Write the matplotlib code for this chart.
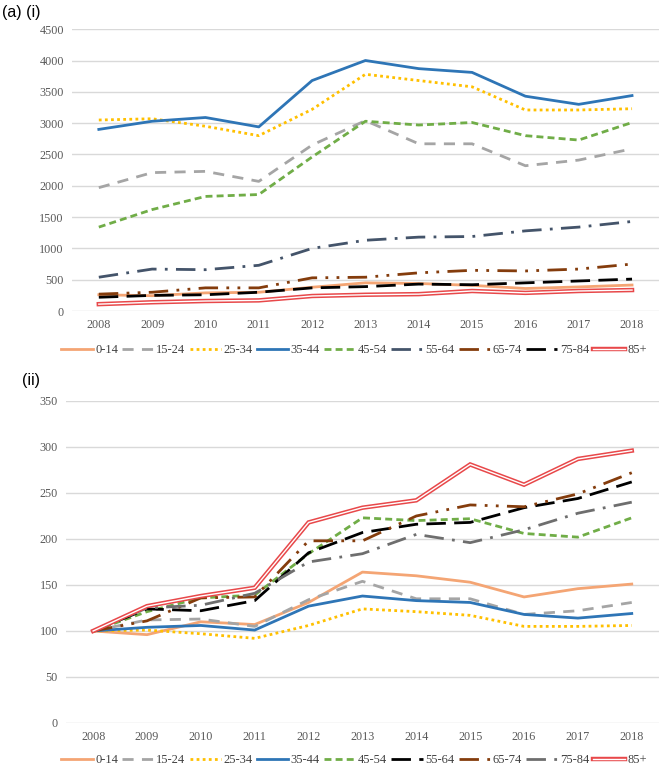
import matplotlib.pyplot as plt

plt.rcParams['font.family'] = 'serif'
plt.rcParams['font.serif'] = ['Liberation Serif', 'DejaVu Serif']

years = [2008, 2009, 2010, 2011, 2012, 2013, 2014, 2015, 2016, 2017, 2018]
groups = ['0-14', '15-24', '25-34', '35-44', '45-54', '55-64', '65-74', '75-84', '85+']

# (i) counts
top_0_14 = [260, 245, 290, 300, 380, 450, 440, 410, 360, 385, 415]
top_15_24 = [1970, 2210, 2230, 2070, 2650, 3040, 2670, 2670, 2320, 2410, 2590]
top_25_34 = [3050, 3070, 2950, 2800, 3220, 3780, 3680, 3580, 3210, 3210, 3230]
top_35_44 = [2900, 3030, 3090, 2940, 3680, 4000, 3870, 3810, 3430, 3300, 3440]
top_45_54 = [1340, 1620, 1830, 1860, 2460, 3030, 2970, 3010, 2800, 2730, 3010]
top_55_64 = [540, 670, 660, 730, 1000, 1130, 1180, 1190, 1280, 1340, 1430]
top_65_74 = [270, 300, 370, 370, 530, 540, 610, 650, 640, 670, 750]
top_75_84 = [220, 250, 260, 300, 370, 390, 430, 420, 450, 480, 510]
top_85 = [110, 140, 160, 170, 240, 260, 270, 320, 290, 320, 335]

# (ii) index (2008 = 100)
bot_0_14 = [100, 96, 110, 107, 131, 164, 160, 153, 137, 146, 151]
bot_15_24 = [100, 112, 113, 105, 134, 154, 135, 135, 118, 122, 131]
bot_25_34 = [100, 101, 97, 92, 106, 124, 121, 117, 105, 105, 106]
bot_35_44 = [100, 104, 106, 101, 127, 138, 133, 131, 118, 114, 119]
bot_45_54 = [100, 121, 136, 139, 184, 223, 220, 222, 206, 202, 223]
bot_55_64 = [100, 124, 122, 133, 185, 207, 216, 218, 234, 244, 262]
bot_65_74 = [100, 111, 136, 137, 198, 198, 225, 237, 235, 249, 272]
bot_75_84 = [100, 125, 128, 141, 175, 184, 205, 196, 210, 228, 240]
bot_85 = [100, 127, 138, 147, 218, 234, 242, 281, 259, 287, 296]

top_data = [top_0_14, top_15_24, top_25_34, top_35_44, top_45_54,
            top_55_64, top_65_74, top_75_84, top_85]
bot_data = [bot_0_14, bot_15_24, bot_25_34, bot_35_44, bot_45_54,
            bot_55_64, bot_65_74, bot_75_84, bot_85]

# colour, dash pattern (None = solid)
top_styles = [
    ('#f4a574', None),
    ('#a5a5a5', (4, 3)),
    ('#ffc000', (1, 1.2)),
    ('#2e75b6', None),
    ('#70ad47', (2.5, 1.5)),
    ('#44546a', (7, 3, 1, 3)),
    ('#843c0c', (7, 3, 1, 3, 1, 3)),
    ('#000000', (7, 3)),
    ('#e8484a', 'double'),
]
bot_styles = list(top_styles)
bot_styles[5] = ('#000000', (7, 3))
bot_styles[7] = ('#6e6e6e', (7, 3, 1, 3))

tick_col = '#595959'
lw = 2.0


def draw(ax, data, styles, ymax, step):
    x = list(range(len(years)))
    handles = []
    for vals, (col, dash) in zip(data, styles):
        if dash == 'double':
            l1, = ax.plot(x, vals, color=col, lw=3.2, solid_joinstyle='miter')
            l2, = ax.plot(x, vals, color='white', lw=1.0, solid_joinstyle='miter')
            handles.append((l1, l2))
        elif dash is None:
            l, = ax.plot(x, vals, color=col, lw=lw)
            handles.append(l)
        else:
            l, = ax.plot(x, vals, color=col, lw=lw, dashes=dash)
            handles.append(l)
    ax.set_xlim(-0.5, len(years) - 0.5)
    ax.set_ylim(0, ymax)
    ax.set_yticks(range(0, ymax + 1, step))
    ax.set_xticks(x)
    ax.set_xticklabels([str(y) for y in years])
    ax.grid(axis='y', color='#d9d9d9', lw=1)
    ax.set_axisbelow(True)
    for s in ax.spines.values():
        s.set_visible(False)
    ax.tick_params(length=0, colors=tick_col, labelsize=8.7, pad=6)
    return handles


fig = plt.figure(figsize=(6.62, 7.68), dpi=100)

ax1 = fig.add_axes([0.109, 0.595, 0.886, 0.367])
h1 = draw(ax1, top_data, top_styles, 4500, 500)
ax2 = fig.add_axes([0.1, 0.0586, 0.895, 0.4193])
h2 = draw(ax2, bot_data, bot_styles, 350, 50)

leg_kw = dict(ncol=9, frameon=False, handlelength=2.5, handletextpad=0.2,
              columnspacing=0.35, prop={'size': 9},
              labelcolor='#404040', loc='center')
fig.legend(h1, groups, bbox_to_anchor=(0.535, 0.544), **leg_kw)
fig.legend(h2, groups, bbox_to_anchor=(0.535, 0.0105), **leg_kw)

fig.text(0.003, 0.984, '(a) (i)', fontsize=11.5, va='center', ha='left',
         family='Liberation Sans')
fig.text(0.033, 0.505, '(ii)', fontsize=11.5, va='center', ha='left',
         family='Liberation Sans')

fig.savefig('out.png', dpi=100)
